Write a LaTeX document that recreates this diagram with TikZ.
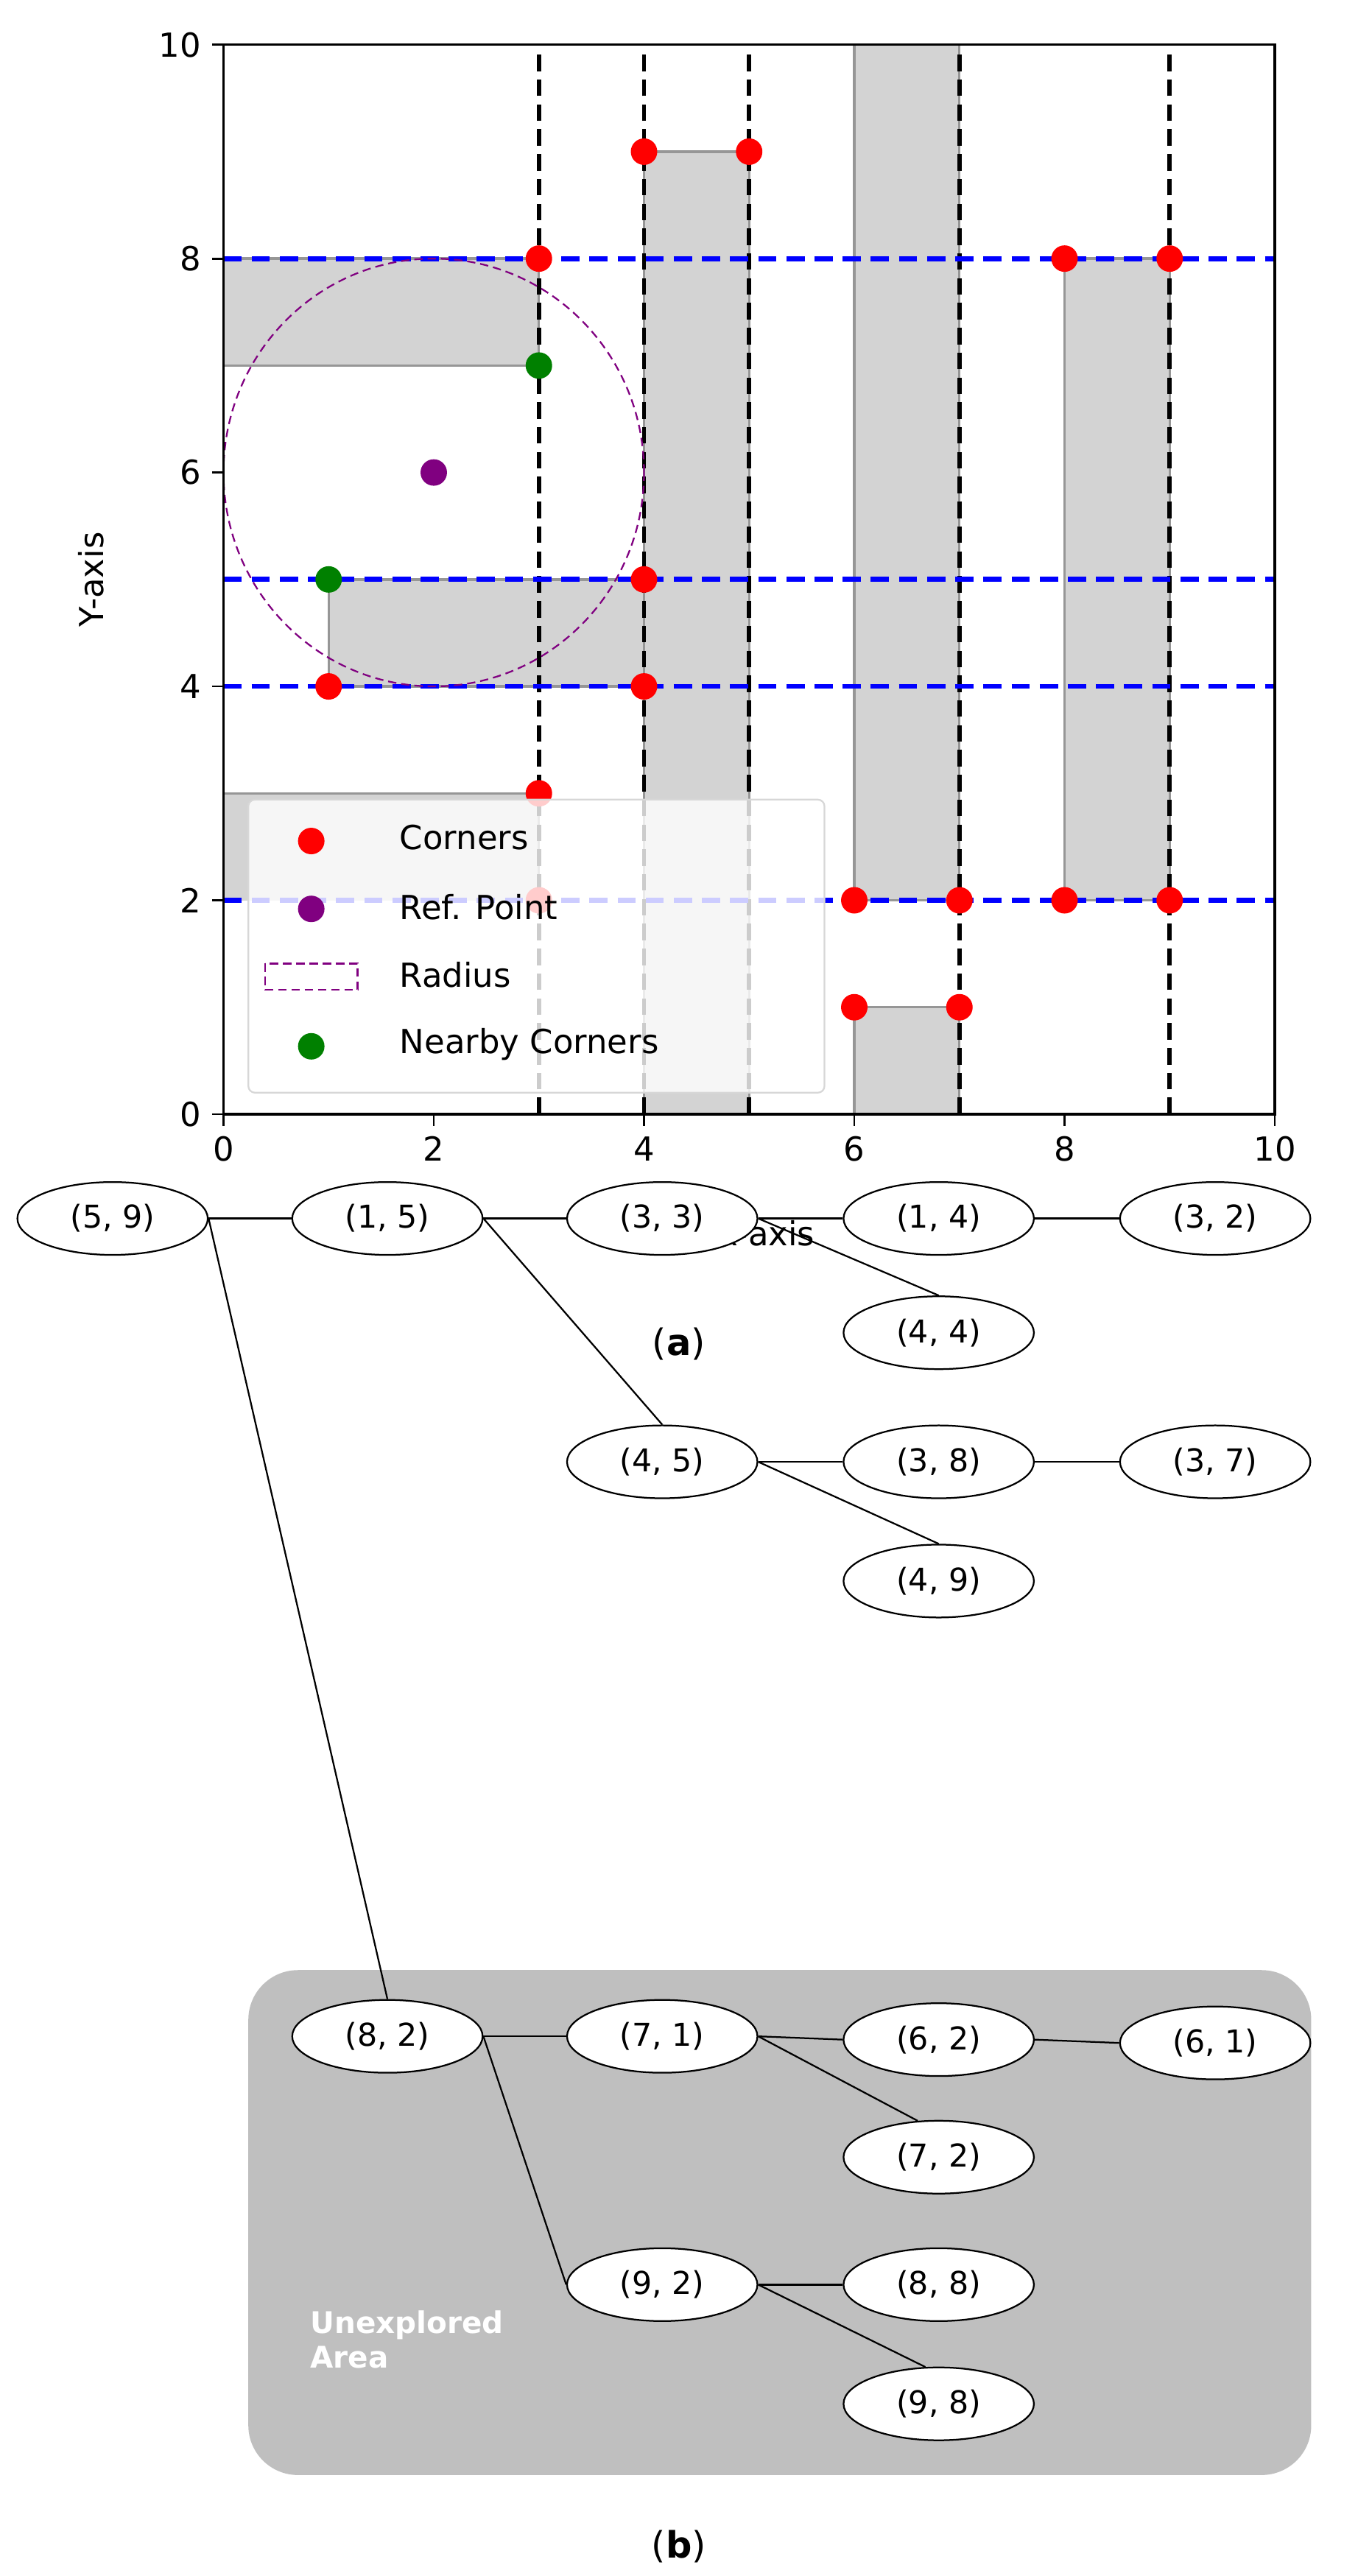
\documentclass[tikz,border=0pt]{standalone}
\usepackage{fontspec}
\usetikzlibrary{shapes.geometric}
\setmainfont{DejaVu Sans}
\definecolor{pur}{RGB}{128,0,128}
\definecolor{grn}{RGB}{0,128,0}
\definecolor{shd}{RGB}{211,211,211}
\definecolor{edg}{RGB}{150,150,150}
\definecolor{area}{RGB}{191,191,191}
\definecolor{lgd}{RGB}{215,215,215}
\begin{document}
\begin{tikzpicture}[x=1pt,y=-1pt,
  rect/.style={fill=shd,draw=edg,line width=1.5pt},
  vdash/.style={black,line width=2.6pt,dash pattern=on 10pt off 5pt},
  hdash/.style={blue,line width=3pt,dash pattern=on 11pt off 6pt},
  tick/.style={line width=1.2pt},
  lab/.style={font=\fontsize{20}{22}\selectfont},
  tn/.style={draw,ellipse,line width=1pt,minimum width=115pt,minimum height=44pt,inner sep=0pt,font=\fontsize{19}{21}\selectfont,fill=white},
  ed/.style={line width=1pt}]
\useasboundingbox (0,0) rectangle (820,1556);
\begin{scope}[shift={(135,673)},x=63.5pt,y=64.6pt]
  \fill[white] (0,0) rectangle (10,10);
  \fill[shd] (0,7) rectangle (3,8);
  \draw[edg,line width=1.5pt] (0,7) -- (3,7) -- (3,8) -- (0,8);
  \draw[rect] (1,4) rectangle (5,5);
  \draw[rect] (4,0) rectangle (5,9);
  \draw[rect] (6,2) rectangle (7,10);
  \draw[rect] (6,0) rectangle (7,1);
  \draw[rect] (8,2) rectangle (9,8);
  \fill[shd] (0,2) rectangle (3,3);
  \draw[edg,line width=1.5pt] (0,3) -- (3,3) -- (3,2);
  \foreach \x in {3,4,5,7,9} \draw[vdash] (\x,0) -- (\x,9.95);
  \foreach \y in {2,4,5,8} \draw[hdash] (0,\y) -- (10,\y);
  \draw[pur,line width=1pt,dash pattern=on 5pt off 3pt] (2,6) circle[x radius=2,y radius=2];
  \foreach \p in {(3,8),(4,9),(5,9),(4,5),(4,4),(1,4),(3,3),(3,2),(6,2),(7,2),(8,2),(9,2),(6,1),(7,1),(8,8),(9,8)}
    \fill[red] \p circle[radius=8pt];
  \fill[grn] (3,7) circle[radius=8pt];
  \fill[grn] (1,5) circle[radius=8pt];
  \fill[pur] (2,6) circle[radius=8pt];
  \draw[line width=1.5pt] (0,0) rectangle (10,10);
  \foreach \v in {0,2,4,6,8,10} {
    \draw[tick] (\v,0) -- ++(0,-7pt);
    \node[lab,anchor=north] at ([yshift=-10pt]\v,0) {\v};
    \draw[tick] (0,\v) -- ++(-7pt,0);
    \node[lab,anchor=east] at ([xshift=-10pt]0,\v) {\v};
  }
\end{scope}
\node[lab] (xl) at (462,745) {X-axis};
\node[lab,rotate=90] (yl) at (55,350) {Y-axis};
% legend
\draw[rounded corners=4pt,fill=white,fill opacity=0.8,draw=lgd,line width=1pt] (150,483) rectangle (498,660);
\fill[red] (188,508) circle[radius=8pt];
\fill[pur] (188,549) circle[radius=8pt];
\draw[pur,line width=1pt,dash pattern=on 5pt off 3pt] (160,582) rectangle (216,598);
\fill[grn] (188,632) circle[radius=8pt];
\node[lab,anchor=west] (l1) at (238,506) {Corners};
\node[lab,anchor=west] (l2) at (238,548) {Ref. Point};
\node[lab,anchor=west] (l3) at (238,589) {Radius};
\node[lab,anchor=west] (l4) at (238,631) {Nearby Corners};
\node[font=\fontsize{22}{24}\selectfont] (ca) at (410,812) {(\textbf{a})};
% tree
\fill[area,rounded corners=30pt] (150,1190) rectangle (792,1495);
\node[white,font=\bfseries\fontsize{18}{21}\selectfont,align=left,anchor=north west] (ua) at (184,1392) {Unexplored\\Area};
\node[tn] (n59) at (68,736) {(5, 9)};
\node[tn] (n15) at (234,736) {(1, 5)};
\node[tn] (n33) at (400,736) {(3, 3)};
\node[tn] (n14) at (567,736) {(1, 4)};
\node[tn] (n32) at (734,736) {(3, 2)};
\node[tn] (n44) at (567,805) {(4, 4)};
\node[tn] (n45) at (400,883) {(4, 5)};
\node[tn] (n38) at (567,883) {(3, 8)};
\node[tn] (n37) at (734,883) {(3, 7)};
\node[tn] (n49) at (567,955) {(4, 9)};
\node[tn] (n82) at (234,1230) {(8, 2)};
\node[tn] (n71) at (400,1230) {(7, 1)};
\node[tn] (n62) at (567,1232) {(6, 2)};
\node[tn] (n61) at (734,1234) {(6, 1)};
\node[tn] (n72) at (567,1303) {(7, 2)};
\node[tn] (n92) at (400,1380) {(9, 2)};
\node[tn] (n88) at (567,1380) {(8, 8)};
\node[tn] (n98) at (567,1452) {(9, 8)};
\draw[ed] (n59.east) -- (n15.west);
\draw[ed] (n59.east) -- (n82.north);
\draw[ed] (n15.east) -- (n33.west);
\draw[ed] (n15.east) -- (n45.north);
\draw[ed] (n33.east) -- (n14.west);
\draw[ed] (n33.east) -- (n44.north);
\draw[ed] (n14.east) -- (n32.west);
\draw[ed] (n45.east) -- (n38.west);
\draw[ed] (n45.east) -- (n49.north);
\draw[ed] (n38.east) -- (n37.west);
\draw[ed] (n82.east) -- (n71.west);
\draw[ed] (n82.east) -- (n92.west);
\draw[ed] (n71.east) -- (n62.west);
\draw[ed] (n71.east) -- (n72.120);
\draw[ed] (n62.east) -- (n61.west);
\draw[ed] (n92.east) -- (n88.west);
\draw[ed] (n92.east) -- (n98.110);
\node[font=\fontsize{22}{24}\selectfont] (cb) at (410,1538) {(\textbf{b})};
\end{tikzpicture}
\end{document}
